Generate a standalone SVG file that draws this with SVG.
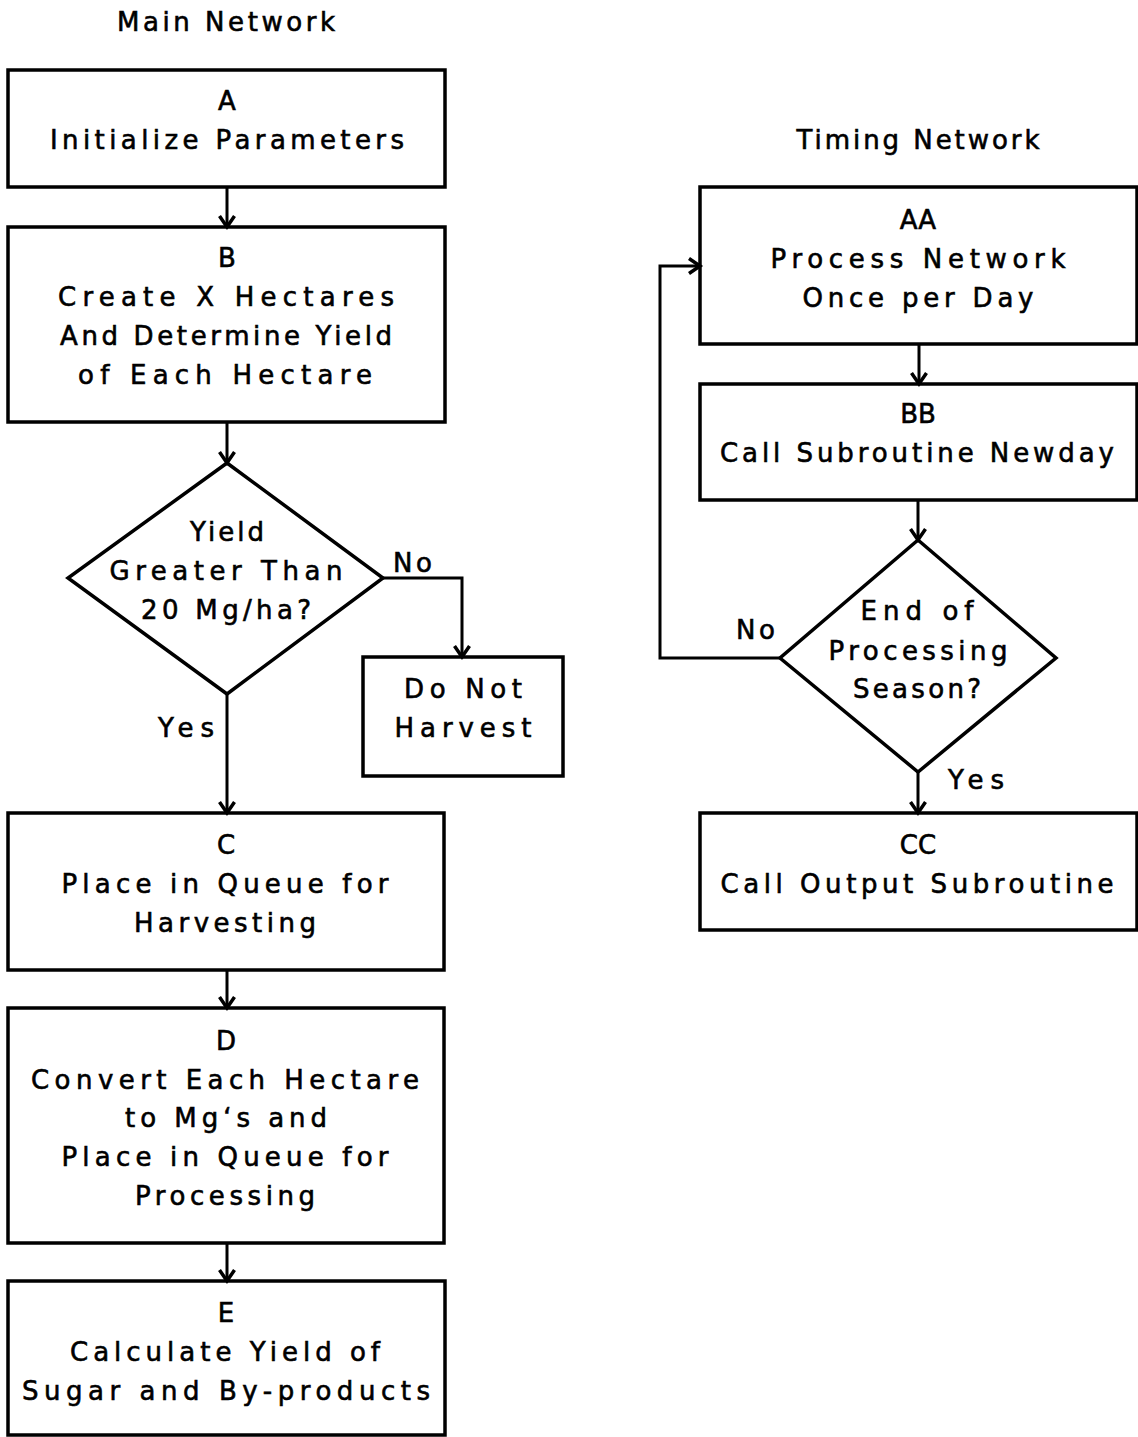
<svg xmlns="http://www.w3.org/2000/svg" width="1138" height="1437" viewBox="0 0 1138 1437">
<defs>
<style>
.box{fill:none;stroke:#000;stroke-width:3.5}
.ln{fill:none;stroke:#000;stroke-width:3}
text{font-family:"DejaVu Sans","Liberation Sans",sans-serif;font-size:26px;fill:#000;stroke:#000;stroke-width:0.6;text-anchor:middle}
.lab{text-anchor:start}
</style>
<marker id="arr" markerUnits="userSpaceOnUse" markerWidth="22" markerHeight="22" refX="13" refY="9" orient="auto" viewBox="0 0 22 18">
<path d="M2,1.5 L13,9 L2,16.5" fill="none" stroke="#000" stroke-width="3.5"/>
</marker>
</defs>
<rect width="1138" height="1437" fill="#fff"/>
<text x="226" y="31" textLength="218" lengthAdjust="spacing">Main Network</text>
<text x="918" y="149" textLength="243" lengthAdjust="spacing">Timing Network</text>

<g id="A">
<rect class="box" x="8" y="70" width="437" height="117"/>
<text x="227" y="110">A</text>
<text x="227" y="149" textLength="354" lengthAdjust="spacing">Initialize Parameters</text>
</g>
<g id="B">
<rect class="box" x="8" y="227" width="437" height="195"/>
<text x="227" y="267">B</text>
<text x="226" y="306" textLength="336" lengthAdjust="spacing">Create X Hectares</text>
<text x="226" y="345" textLength="332" lengthAdjust="spacing">And Determine Yield</text>
<text x="225" y="384" textLength="294" lengthAdjust="spacing">of Each Hectare</text>
</g>
<g id="Q1">
<polygon class="box" points="227,463 383,578 227,694 68,578"/>
<text x="227" y="541" textLength="74" lengthAdjust="spacing">Yield</text>
<text x="226" y="580" textLength="233" lengthAdjust="spacing">Greater Than</text>
<text x="226" y="619" textLength="170" lengthAdjust="spacing">20 Mg/ha?</text>
</g>
<g id="DNH">
<rect class="box" x="363" y="657" width="200" height="119"/>
<text x="463" y="698" textLength="118" lengthAdjust="spacing">Do Not</text>
<text x="463" y="737" textLength="137" lengthAdjust="spacing">Harvest</text>
</g>
<g id="C">
<rect class="box" x="8" y="813" width="436" height="157"/>
<text x="226" y="854">C</text>
<text x="225" y="893" textLength="327" lengthAdjust="spacing">Place in Queue for</text>
<text x="225" y="932" textLength="182" lengthAdjust="spacing">Harvesting</text>
</g>
<g id="D">
<rect class="box" x="8" y="1008" width="436" height="235"/>
<text x="226" y="1050">D</text>
<text x="225" y="1089" textLength="388" lengthAdjust="spacing">Convert Each Hectare</text>
<text x="226" y="1127" textLength="202" lengthAdjust="spacing">to Mg‘s and</text>
<text x="225" y="1166" textLength="327" lengthAdjust="spacing">Place in Queue for</text>
<text x="225" y="1205" textLength="180" lengthAdjust="spacing">Processing</text>
</g>
<g id="E">
<rect class="box" x="8" y="1281" width="437" height="154"/>
<text x="226" y="1322">E</text>
<text x="225" y="1361" textLength="310" lengthAdjust="spacing">Calculate Yield of</text>
<text x="226" y="1400" textLength="408" lengthAdjust="spacing">Sugar and By-products</text>
</g>

<g id="AA">
<rect class="box" x="700" y="187" width="437" height="157"/>
<text x="918" y="229">AA</text>
<text x="918" y="268" textLength="295" lengthAdjust="spacing">Process Network</text>
<text x="918" y="307" textLength="231" lengthAdjust="spacing">Once per Day</text>
</g>
<g id="BB">
<rect class="box" x="700" y="384" width="437" height="116"/>
<text x="918" y="423">BB</text>
<text x="917" y="462" textLength="394" lengthAdjust="spacing">Call Subroutine Newday</text>
</g>
<g id="Q2">
<polygon class="box" points="918,540 1056,658 918,772 780,658"/>
<text x="917" y="620" textLength="113" lengthAdjust="spacing">End of</text>
<text x="918" y="660" textLength="179" lengthAdjust="spacing">Processing</text>
<text x="917" y="698" textLength="128" lengthAdjust="spacing">Season?</text>
</g>
<g id="CC">
<rect class="box" x="700" y="813" width="437" height="117"/>
<text x="918" y="854">CC</text>
<text x="917" y="893" textLength="393" lengthAdjust="spacing">Call Output Subroutine</text>
</g>

<g id="connectors">
<line class="ln" x1="227" y1="187" x2="227" y2="227" marker-end="url(#arr)"/>
<line class="ln" x1="227" y1="422" x2="227" y2="463" marker-end="url(#arr)"/>
<polyline class="ln" points="383,578 462,578 462,657" marker-end="url(#arr)"/>
<line class="ln" x1="227" y1="694" x2="227" y2="813" marker-end="url(#arr)"/>
<line class="ln" x1="227" y1="970" x2="227" y2="1008" marker-end="url(#arr)"/>
<line class="ln" x1="227" y1="1243" x2="227" y2="1281" marker-end="url(#arr)"/>
<line class="ln" x1="919" y1="344" x2="919" y2="384" marker-end="url(#arr)"/>
<line class="ln" x1="918" y1="500" x2="918" y2="540" marker-end="url(#arr)"/>
<polyline class="ln" points="780,658 660,658 660,266 700,266" marker-end="url(#arr)"/>
<line class="ln" x1="918" y1="772" x2="918" y2="813" marker-end="url(#arr)"/>
<text class="lab" x="393" y="572" textLength="39" lengthAdjust="spacing">No</text>
<text class="lab" x="158" y="737" textLength="56" lengthAdjust="spacing">Yes</text>
<text class="lab" x="736" y="639" textLength="39" lengthAdjust="spacing">No</text>
<text class="lab" x="948" y="789" textLength="56" lengthAdjust="spacing">Yes</text>
</g>
</svg>
